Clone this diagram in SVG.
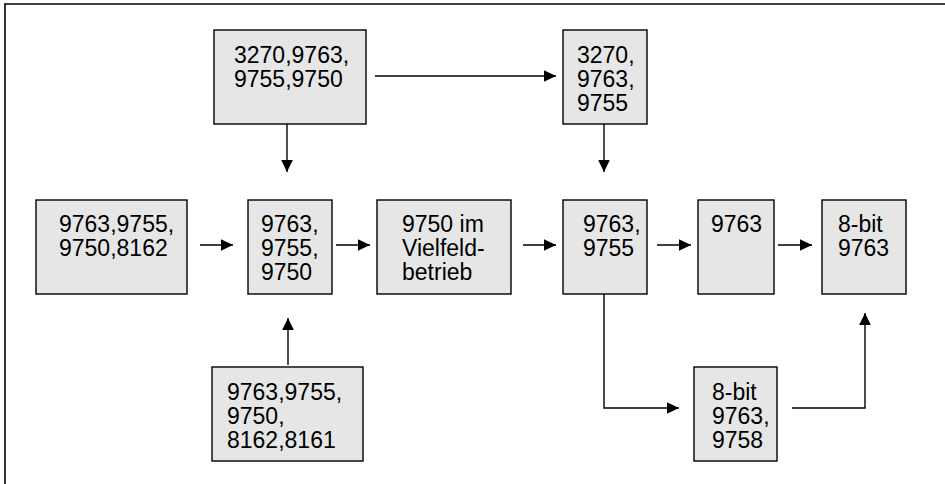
<svg xmlns="http://www.w3.org/2000/svg" width="945" height="484" viewBox="0 0 945 484">
<defs>
<style>
.box{fill:#e6e6e6;stroke:#000;stroke-width:1.4}
.t{font-family:"Liberation Sans",Arial,sans-serif;font-size:23px;fill:#000}
.c{fill:none;stroke:#000;stroke-width:1.4}
.frame{fill:none;stroke:#000;stroke-width:1.6}
</style>
<marker id="ah" markerUnits="userSpaceOnUse" markerWidth="12" markerHeight="12" viewBox="0 0 11 10.7" refX="11" refY="5.35" orient="auto">
<path d="M0,0 L11,5.35 L0,10.7 z" fill="#000"/>
</marker>
</defs>
<rect width="945" height="484" fill="#fff"/>
<path class="frame" d="M5,484 V4 H945"/>
<g id="n1"><rect class="box" x="214" y="30" width="152" height="94"/><text class="t" x="234" y="63">3270,9763,</text><text class="t" x="234" y="87">9755,9750</text></g>
<g id="n2"><rect class="box" x="563" y="30" width="84" height="94"/><text class="t" x="577" y="63">3270,</text><text class="t" x="577" y="87">9763,</text><text class="t" x="577" y="111">9755</text></g>
<g id="nA"><rect class="box" x="36" y="200" width="151" height="94"/><text class="t" x="59" y="232">9763,9755,</text><text class="t" x="59" y="256">9750,8162</text></g>
<g id="nB"><rect class="box" x="248" y="200" width="84" height="94"/><text class="t" x="261" y="232">9763,</text><text class="t" x="261" y="256">9755,</text><text class="t" x="261" y="280">9750</text></g>
<g id="nC"><rect class="box" x="377" y="200" width="134" height="94"/><text class="t" x="402" y="232">9750 im</text><text class="t" x="402" y="256">Vielfeld-</text><text class="t" x="402" y="280">betrieb</text></g>
<g id="nD"><rect class="box" x="563" y="200" width="84" height="94"/><text class="t" x="583" y="232">9763,</text><text class="t" x="583" y="256">9755</text></g>
<g id="nE"><rect class="box" x="698" y="200" width="76" height="94"/><text class="t" x="711" y="232">9763</text></g>
<g id="nF"><rect class="box" x="822" y="200" width="84" height="94"/><text class="t" x="838" y="232">8-bit</text><text class="t" x="838" y="256">9763</text></g>
<g id="nG"><rect class="box" x="212" y="367" width="151" height="94"/><text class="t" x="227" y="400">9763,9755,</text><text class="t" x="227" y="424">9750,</text><text class="t" x="227" y="448">8162,8161</text></g>
<g id="nH"><rect class="box" x="694" y="367" width="83" height="94"/><text class="t" x="712" y="400">8-bit</text><text class="t" x="712" y="424">9763,</text><text class="t" x="712" y="448">9758</text></g>
<g id="connectors">
<path class="c" marker-end="url(#ah)" d="M375,76 H556"/>
<path class="c" marker-end="url(#ah)" d="M287,124 V172"/>
<path class="c" marker-end="url(#ah)" d="M604,124 V172"/>
<path class="c" marker-end="url(#ah)" d="M200,245 H233"/>
<path class="c" marker-end="url(#ah)" d="M336,245 H370"/>
<path class="c" marker-end="url(#ah)" d="M523,245 H556"/>
<path class="c" marker-end="url(#ah)" d="M657,245 H691"/>
<path class="c" marker-end="url(#ah)" d="M778,245 H812"/>
<path class="c" marker-end="url(#ah)" d="M288,365 V318"/>
<path class="c" marker-end="url(#ah)" d="M604,294 V408 H679"/>
<path class="c" marker-end="url(#ah)" d="M792,408 H865 V313"/>
</g>
</svg>
